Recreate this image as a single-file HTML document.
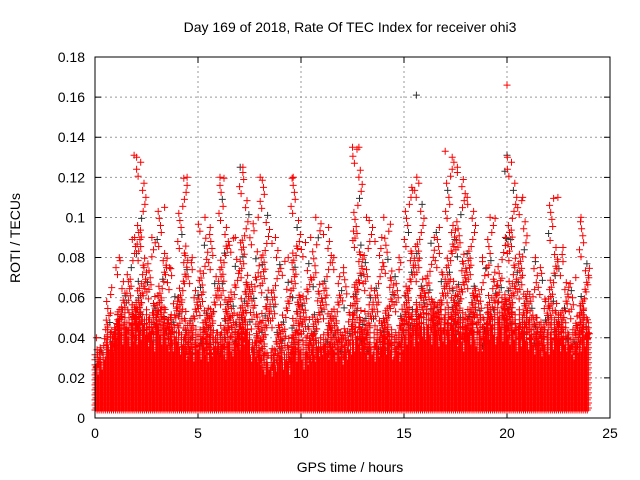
<!DOCTYPE html>
<html><head><meta charset="utf-8"><style>
body{margin:0;background:#fff;}
svg{display:block;font-family:"Liberation Sans",sans-serif;}
</style></head><body>
<svg id="chart" width="640" height="480">
<rect width="640" height="480" fill="#fff"/>
<text x="350" y="32" font-size="14" text-anchor="middle">Day 169 of 2018, Rate Of TEC Index for receiver ohi3</text>
<g id="grid"></g>
<g id="ticks"></g>
<g id="marks"></g>
<rect x="95" y="57" width="515" height="361" fill="none" stroke="#000" stroke-width="1"/>
<text x="350" y="472" font-size="14" text-anchor="middle">GPS time / hours</text>
<text x="20" y="238" font-size="14" text-anchor="middle" transform="rotate(-90 20 238)">ROTI / TECUs</text>
</svg>
<script>
const xTicks=[0,5,10,15,20,25];
const yTicks=[0,0.02,0.04,0.06,0.08,0.1,0.12,0.14,0.16,0.18];
const yTickLabels=["0","0.02","0.04","0.06","0.08","0.1","0.12","0.14","0.16","0.18"];
const binStart=[0,0.5,1,1.5,2,2.5,3,3.5,4,4.5,5,5.5,6,6.5,7,7.5,8,8.5,9,9.5,10,10.5,11,11.5,12,12.5,13,13.5,14,14.5,15,15.5,16,16.5,17,17.5,18,18.5,19,19.5,20,20.5,21,21.5,22,22.5,23,23.5];
const binMax=[0.04,0.065,0.08,0.09,0.13,0.09,0.105,0.075,0.12,0.08,0.1,0.095,0.12,0.09,0.125,0.1,0.12,0.09,0.08,0.12,0.09,0.1,0.095,0.08,0.075,0.135,0.1,0.09,0.1,0.08,0.115,0.12,0.09,0.095,0.13,0.125,0.11,0.08,0.1,0.09,0.13,0.11,0.08,0.075,0.11,0.085,0.07,0.1];
const binDense=[0.032,0.042,0.05,0.05,0.05,0.048,0.05,0.045,0.04,0.04,0.042,0.04,0.04,0.042,0.048,0.038,0.03,0.03,0.032,0.04,0.035,0.038,0.04,0.04,0.038,0.045,0.04,0.04,0.042,0.04,0.05,0.05,0.052,0.05,0.05,0.048,0.05,0.045,0.05,0.055,0.05,0.048,0.045,0.042,0.045,0.045,0.04,0.048];
const outX=[1.9,15.6,20.0,20.0,12.5,7.05,17.0,19.9];
const outY=[0.131,0.161,0.166,0.131,0.135,0.125,0.133,0.123];
const outDark=[0,1,0,1,0,1,0,1];
// layout jitter tables (positional only)
const colShape=[1,0.8,1.1,0.7,0.95,1.15,0.85,0.75,1.05,0.9];
const offs=[0.07,0.31,0.18,0.42,0.02,0.26,0.38,0.12,0.47,0.22,0.34,0.09];
const NS="http://www.w3.org/2000/svg";
const X0=95,X1=610,Y0=418,Y1=57;
const sx=v=>X0+(v-0)/(25-0)*(X1-X0);
const sy=v=>Y0-(v-0)/(0.18-0)*(Y0-Y1);
const grid=document.getElementById('grid'),ticks=document.getElementById('ticks'),marks=document.getElementById('marks');
xTicks.forEach((t,i)=>{const x=sx(t);
 if(i>0&&i<xTicks.length-1){const l=document.createElementNS(NS,'line');l.setAttribute('x1',x);l.setAttribute('x2',x);l.setAttribute('y1',Y0);l.setAttribute('y2',Y1);l.setAttribute('stroke','#999');l.setAttribute('stroke-dasharray','2,3');
 
 grid.appendChild(l);}
 const tk=document.createElementNS(NS,'path');tk.setAttribute('d',`M${x},${Y0}v-6M${x},${Y1}v6`);tk.setAttribute('stroke','#000');
 
 ticks.appendChild(tk);
 const tx=document.createElementNS(NS,'text');tx.setAttribute('x',x);tx.setAttribute('y',Y0+20);tx.setAttribute('font-size','14');tx.setAttribute('text-anchor','middle');tx.textContent=t;
 
 ticks.appendChild(tx);});
yTicks.forEach((t,i)=>{const y=sy(t);
 if(i>0&&i<yTicks.length-1){const l=document.createElementNS(NS,'line');l.setAttribute('x1',X0);l.setAttribute('x2',X1);l.setAttribute('y1',y);l.setAttribute('y2',y);l.setAttribute('stroke','#999');l.setAttribute('stroke-dasharray','2,3');
 
 grid.appendChild(l);}
 const tk=document.createElementNS(NS,'path');tk.setAttribute('d',`M${X0},${y}h6M${X1},${y}h-6`);tk.setAttribute('stroke','#000');
 
 ticks.appendChild(tk);
 const tx=document.createElementNS(NS,'text');tx.setAttribute('x',X0-10);tx.setAttribute('y',y+5);tx.setAttribute('font-size','14');tx.setAttribute('text-anchor','end');tx.textContent=yTickLabels[i];
 
 ticks.appendChild(tx);});
let red='',dark='';
const plus=(x,y)=>`M${(x-3.5).toFixed(1)},${y.toFixed(1)}h7M${x.toFixed(1)},${(y-3.5).toFixed(1)}v7`;
let n=0;
binStart.forEach((b,i)=>{
 for(let c=0;c<10;c++){
  const top=binDense[i]*colShape[(c+i*3)%10];
  const x=sx(b+c*0.05);
  for(let v=0.004+(c%2)*0.001;v<=top;v+=0.0025){red+=plus(x,sy(v));}
 }
 let j=0;
 for(let v=binDense[i]*0.8;v<=binMax[i];v+=0.0035){
  const frac=(v-binDense[i]*0.8)/(binMax[i]-binDense[i]*0.8+1e-6);
  const cnt=frac<0.3?4:(frac<0.6?2:1);
  for(let q=0;q<cnt;q++){
   const o=offs[(j*5+q*7+i)%12];
   const x=sx(b+o+(q%2)*0.03);
   const p=plus(x,sy(v+q*0.0012));
   n++;
   if(n%9==0)dark+=p;else red+=p;
  }
  j++;}
 red+=plus(sx(b+offs[i%12]),sy(binMax[i]));
});
outX.forEach((x,i)=>{const p=plus(sx(x),sy(outY[i]));if(outDark[i])dark+=p;else red+=p;});
const pd=document.createElementNS(NS,'path');pd.setAttribute('d',dark);pd.setAttribute('stroke','#333');pd.setAttribute('fill','none');

marks.appendChild(pd);
const pr=document.createElementNS(NS,'path');pr.setAttribute('d',red);pr.setAttribute('stroke','#f00');pr.setAttribute('fill','none');

marks.appendChild(pr);
</script>
</body></html>
